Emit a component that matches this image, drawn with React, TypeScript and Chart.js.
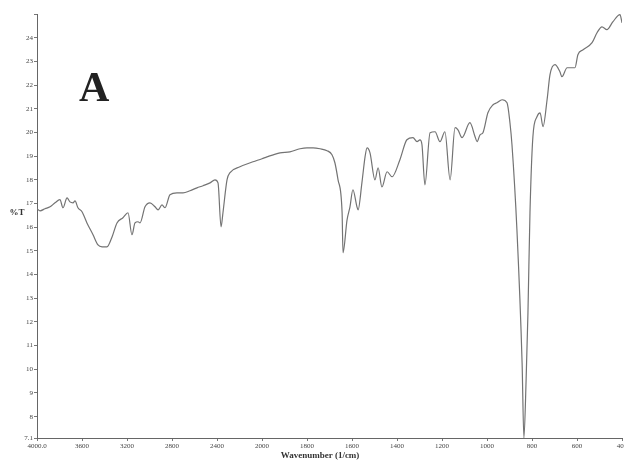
import React, { useEffect, useRef } from "react";
import { Chart, registerables } from "chart.js";

Chart.register(...registerables);

// Wavenumber (1/cm) and %T
const wavenumbers = [
  4000, 3973, 3929, 3884, 3840, 3796, 3769, 3733, 3707, 3680, 3662, 3636, 3600, 3556, 3502, 3458,
  3422, 3378, 3333, 3289, 3236, 3191, 3156, 3129, 3102, 3084, 3040, 2996, 2951, 2924, 2889, 2862,
  2818, 2756, 2702, 2640, 2578, 2524, 2462, 2418, 2391, 2364, 2347, 2311, 2284, 2196, 2080, 2000,
  1978, 1920, 1876, 1831, 1800, 1773, 1742, 1711, 1689, 1676, 1662, 1644, 1640, 1622, 1609, 1596,
  1578, 1573, 1556, 1542, 1533, 1520, 1498, 1484, 1467, 1444, 1422, 1387, 1356, 1329, 1311, 1298,
  1289, 1276, 1253, 1231, 1209, 1187, 1164, 1142, 1129, 1111, 1076, 1053, 1044, 1031, 1018, 996,
  973, 956, 933, 911, 898, 889, 867, 844, 836, 826, 818, 809, 796, 778, 764, 751,
  733, 720, 698, 676, 667, 644, 609, 596, 573, 533, 511, 489, 467, 440, 409, 400,
];
const transmittance = [
  16.78, 16.69, 16.78, 16.86, 17.03, 17.16, 16.82, 17.24, 17.07, 17.03, 17.11, 16.82, 16.65, 16.18, 15.68, 15.25,
  15.17, 15.17, 15.59, 16.18, 16.4, 16.61, 15.68, 16.18, 16.23, 16.18, 16.86, 17.03, 16.86, 16.73, 16.94, 16.82,
  17.37, 17.45, 17.45, 17.54, 17.66, 17.75, 17.87, 18.0, 17.87, 16.01, 16.61, 18.0, 18.3, 18.55, 18.76, 18.89,
  18.97, 19.14, 19.18, 19.31, 19.35, 19.35, 19.31, 19.23, 19.06, 18.72, 18.0, 16.61, 14.92, 16.31, 16.86, 17.58,
  16.86, 16.73, 17.87, 18.97, 19.35, 19.14, 18.0, 18.51, 17.7, 18.34, 18.13, 18.85, 19.69, 19.78, 19.61, 19.69,
  19.48, 17.79, 19.99, 20.03, 19.61, 20.03, 18.0, 20.2, 20.11, 19.78, 20.41, 19.82, 19.61, 19.9, 19.99, 20.83,
  21.17, 21.25, 21.38, 21.25, 20.41, 19.48, 15.89, 10.27, 7.1, 9.6, 12.38, 16.61, 19.82, 20.66, 20.83, 20.24,
  21.38, 22.44, 22.86, 22.56, 22.35, 22.73, 22.73, 23.28, 23.49, 23.79, 24.21, 24.46, 24.34, 24.68, 24.97, 24.63,
];

const xTickLabels = ["4000.0", "3600", "3200", "2800", "2400", "2000", "1800", "1600", "1400", "1200", "1000", "800", "600", "400"];
const yTickValues = [7.1, 8, 9, 10, 11, 12, 13, 14, 15, 16, 17, 18, 19, 20, 21, 22, 23, 24, 25];
const yTickLabels = ["7.1", "8", "9", "10", "11", "12", "13", "14", "15", "16", "17", "18", "19", "20", "21", "22", "23", "24", ""];

const xTitle = "Wavenumber (1/cm)";
const yTitle = "%T";
const panelLabel = "A";

// The instrument axis is expanded 2x below 2000 1/cm
function axisPos(w: number): number {
  return w >= 2000 ? (4000 - w) / 400 : 5 + (2000 - w) / 200;
}

const SERIF = "'Liberation Serif', 'DejaVu Serif', serif";

export default function App() {
  const ref = useRef<HTMLCanvasElement | null>(null);

  useEffect(() => {
    if (!ref.current) return;
    const textPlugin = {
      id: "texts",
      afterDraw(chart: any) {
        const ctx = chart.ctx;
        ctx.save();
        ctx.fillStyle = "#222";
        ctx.font = `bold 42px ${SERIF}`;
        ctx.textAlign = "left";
        ctx.textBaseline = "alphabetic";
        ctx.fillText(panelLabel, 79, 101);
        ctx.font = `bold 9px ${SERIF}`;
        ctx.fillStyle = "#333";
        ctx.textAlign = "center";
        ctx.textBaseline = "middle";
        ctx.fillText(yTitle, 17, 213);
        ctx.fillText(xTitle, 320, 456);
        ctx.restore();
      },
    };

    const chart = new Chart(ref.current, {
      type: "line",
      data: {
        datasets: [
          {
            data: wavenumbers.map((w, i) => ({ x: axisPos(w), y: transmittance[i] })),
            borderColor: "#737373",
            borderWidth: 1.2,
            pointRadius: 0,
            cubicInterpolationMode: "monotone",
            fill: false,
          },
        ],
      },
      options: {
        animation: false,
        responsive: true,
        maintainAspectRatio: false,
        layout: { padding: { top: 14, right: 2, left: 0, bottom: 0 } },
        plugins: { legend: { display: false }, tooltip: { enabled: false } },
        scales: {
          x: {
            type: "linear",
            min: 0,
            max: 13,
            afterBuildTicks(scale: any) {
              scale.ticks = xTickLabels.map((_, i) => ({ value: i }));
            },
            afterFit(scale: any) {
              scale.height = 25;
              scale.paddingLeft = 0;
              scale.paddingRight = 0;
            },
            ticks: {
              autoSkip: false,
              maxRotation: 0,
              padding: 1,
              color: "#444",
              font: { family: SERIF, size: 7 },
              callback: (_v: any, i: number) => xTickLabels[i],
            },
            grid: { display: true, drawOnChartArea: false, drawTicks: true, tickLength: 3, color: "#777" },
            border: { display: true, color: "#666", width: 1 },
          },
          y: {
            type: "linear",
            min: 7.1,
            max: 25,
            afterBuildTicks(scale: any) {
              scale.ticks = yTickValues.map((v) => ({ value: v }));
            },
            afterFit(scale: any) {
              scale.width = 37;
              scale.paddingTop = 0;
              scale.paddingBottom = 0;
            },
            ticks: {
              autoSkip: false,
              padding: 1,
              color: "#444",
              font: { family: SERIF, size: 7 },
              callback: (_v: any, i: number) => yTickLabels[i],
            },
            grid: { display: true, drawOnChartArea: false, drawTicks: true, tickLength: 3, color: "#777" },
            border: { display: true, color: "#666", width: 1 },
          },
        },
      },
      plugins: [textPlugin],
    });
    return () => chart.destroy();
  }, []);

  return (
    <div style={{ position: "fixed", left: 0, top: 0, width: 624, height: 463, background: "#fff" }}>
      <canvas ref={ref} />
    </div>
  );
}
